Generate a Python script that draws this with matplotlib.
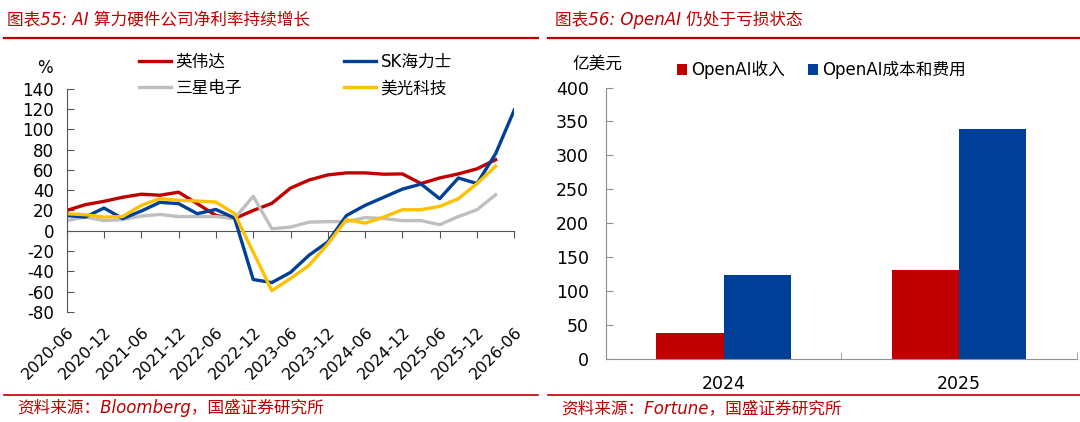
import numpy as np
import matplotlib
matplotlib.use("Agg")
import matplotlib.pyplot as plt
from matplotlib.lines import Line2D

plt.rcParams['font.family'] = ['DejaVu Sans', 'Noto Sans CJK SC']
plt.rcParams['axes.unicode_minus'] = False

# ---- left chart data: net margin (%), quarterly ----
quarters = ['2020-06', '2020-09', '2020-12', '2021-03', '2021-06', '2021-09', '2021-12',
            '2022-03', '2022-06', '2022-09', '2022-12', '2023-03', '2023-06', '2023-09',
            '2023-12', '2024-03', '2024-06', '2024-09', '2024-12', '2025-03', '2025-06',
            '2025-09', '2025-12', '2026-03', '2026-06']
nvidia = [20, 25.7, 29, 33, 36, 35, 38, 26.7, 15, 12, 20, 27, 42, 50, 55, 57, 57, 55.7,
          56, 46.5, 52, 56, 61, 70, np.nan]
sk_hynix = [15, 13.5, 22.4, 12, 19.4, 28, 26.7, 16.8, 21, 12.5, -48, -51, -41, -24, -11,
            15, 25, 33, 41, 46, 31.6, 52, 46.5, 76, 119]
samsung = [10, 13.5, 10, 11, 14.5, 16, 14, 14, 14, 12, 34, 2, 3.6, 8.5, 9, 9, 13, 12,
           10, 10, 6, 14, 20.7, 35.5, np.nan]
micron = [16.8, 15.8, 13.5, 14, 25, 31.6, 30, 29.3, 28.3, 16.8, -21, -59, -47, -34, -13,
          11, 7.5, 13.5, 20.7, 20.7, 24, 31.6, 46.5, 63.6, np.nan]

# ---- right chart data: OpenAI (亿美元) ----
years = ['2024', '2025']
revenue = [37, 130]
cost = [124, 339]

RED = '#C00000'
BLUE = '#004098'
GRAY = '#BFBFBF'
YELLOW = '#FFC000'
W, H = 1080, 422

fig = plt.figure(figsize=(W / 100, H / 100), dpi=100)


def fx(px):
    return px / W


def fy(py):
    return 1 - py / H


# frame: titles, red rules, sources
for x0, x1 in [(4, 538), (548, 1080)]:
    fig.add_artist(Line2D([fx(x0), fx(x1)], [fy(37.5), fy(37.5)], color=RED, lw=1.6))
    fig.add_artist(Line2D([fx(x0), fx(x1)], [fy(395), fy(395)], color=RED, lw=1.2))

title_kw = dict(color=RED, fontsize=12, style='italic', va='center', ha='left')
fig.text(fx(7), fy(20), '图表55: AI 算力硬件公司净利率持续增长', **title_kw)
fig.text(fx(555), fy(20), '图表56: OpenAI 仍处于亏损状态', **title_kw)
fig.text(fx(17), fy(408), '资料来源：Bloomberg，国盛证券研究所', **title_kw)
fig.text(fx(561), fy(408), '资料来源：Fortune，国盛证券研究所', **title_kw)

# ---- left line chart ----
ax = fig.add_axes([fx(66.7), fy(312), fx(514.3 - 66.7), (312 - 88.6) / H])
x = np.arange(len(quarters))
lw = 2.4
l_nv, = ax.plot(x, nvidia, color=RED, lw=lw, label='英伟达')
l_ss, = ax.plot(x, samsung, color=GRAY, lw=lw, label='三星电子')
l_sk, = ax.plot(x, sk_hynix, color=BLUE, lw=lw, label='SK海力士')
l_mu, = ax.plot(x, micron, color=YELLOW, lw=lw, label='美光科技')

ymin, ymax = -80, 140
ax.set_xlim(0, len(quarters) - 1)
ax.set_ylim(ymin, ymax)
ax.set_yticks(range(ymin, ymax + 1, 20))
ax.tick_params(axis='y', direction='in', length=5, pad=9, labelsize=12, color='#555555')
for s in ['top', 'right', 'bottom']:
    ax.spines[s].set_visible(False)
ax.spines['left'].set_color('#555555')

tick_pos = x[::2]
ax.set_xticks(tick_pos, [quarters[i] for i in tick_pos])
ax.tick_params(axis='x', length=0, pad=9, labelsize=11.5)
for lab in ax.get_xticklabels():
    lab.set_rotation(45)
    lab.set_ha('right')
    lab.set_va('top')
    lab.set_rotation_mode('anchor')

zero_axis = ax.secondary_xaxis((0 - ymin) / (ymax - ymin))
zero_axis.set_xticks(tick_pos, [''] * len(tick_pos))
zero_axis.tick_params(direction='out', length=5, color='#555555')
zero_axis.spines['bottom'].set_color('#555555')

ax.text(-0.032, 1.09, '%', transform=ax.transAxes, fontsize=12, ha='right', va='center')
fig.legend(handles=[l_nv, l_ss, l_sk, l_mu], ncol=2, loc='center left',
           bbox_to_anchor=(fx(139), fy(75)), frameon=False, fontsize=12,
           handlelength=1.9, handletextpad=0.3, columnspacing=6.1, labelspacing=0.5,
           borderpad=0, borderaxespad=0)

# ---- right bar chart ----
bx = fig.add_axes([fx(605.7), fy(358.5), fx(1077 - 605.7), (358.5 - 87.6) / H])
xb = np.arange(len(years))
bw = 0.285
b1 = bx.bar(xb - bw / 2, revenue, bw, color=RED, label='OpenAI收入')
b2 = bx.bar(xb + bw / 2, cost, bw, color=BLUE, label='OpenAI成本和费用')
bx.set_xlim(-0.5, len(years) - 0.5)
bx.set_ylim(0, 400)
bx.set_yticks(range(0, 401, 50))
bx.set_xticks(xb, years)
bx.set_xticks(np.arange(-0.5, len(years)), minor=True)
bx.tick_params(axis='x', which='major', length=0, pad=12, labelsize=12.5)
bx.tick_params(axis='x', which='minor', direction='in', length=5, color='#909090')
bx.tick_params(axis='y', direction='in', length=5, pad=12, labelsize=12.5, color='#909090')
for s in ['top', 'right']:
    bx.spines[s].set_visible(False)
for s in ['left', 'bottom']:
    bx.spines[s].set_color('#909090')

fig.text(fx(572), fy(64), '亿美元', fontsize=12, ha='left', va='center',
         family=['Noto Sans CJK SC'])
fig.legend(handles=[b1, b2], ncol=2, loc='center left', bbox_to_anchor=(fx(677), fy(70)),
           frameon=False, fontsize=12, handlelength=0.6, handleheight=0.6,
           handletextpad=0.25, columnspacing=1.4, borderpad=0, borderaxespad=0)

fig.savefig('out.png', dpi=100)
